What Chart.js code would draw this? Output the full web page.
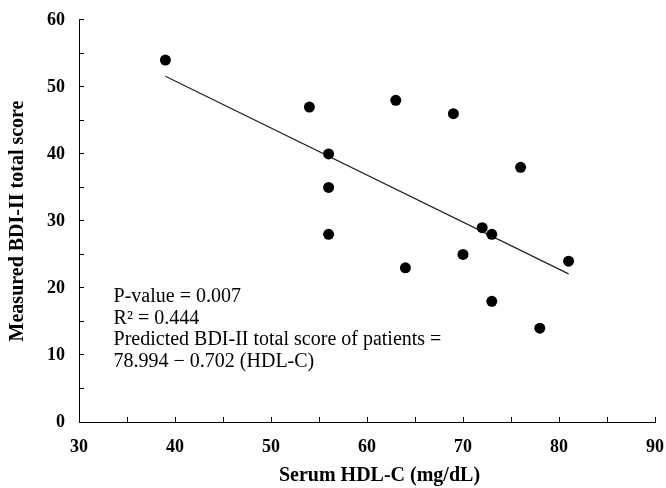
<!DOCTYPE html>
<html>
<head>
<meta charset="utf-8">
<script src="https://cdn.jsdelivr.net/npm/chart.js@4.4.1/dist/chart.umd.min.js"></script>
<style>
  html, body { margin: 0; padding: 0; background: #fff; }
</style>
</head>
<body>
<canvas id="hdl" width="666" height="488"></canvas>
<script>
// patients: serum HDL-C vs measured BDI-II score
const hdlC = [39, 54, 56, 56, 56, 63, 64, 69, 70, 72, 73, 73, 76, 78, 81];
const bdiScore = [54, 47, 40, 35, 28, 48, 23, 46, 25, 29, 28, 18, 38, 14, 24];

// regression line ends
const fitX = [39, 81];
const fitY = [51.6, 22.1];

const statText = [
  "P-value = 0.007",
  "R\u00B2 = 0.444",
  "Predicted BDI-II total score of patients =",
  "78.994 \u2212 0.702 (HDL-C)"
];

const serif = "'Liberation Serif', 'Times New Roman', serif";

// stats block, anchored on the axes
const statsPlugin = {
  id: "stats",
  afterDatasetsDraw(chart) {
    const { ctx, scales } = chart;
    const x = scales.x.getPixelForValue(33.6);
    const y = scales.y.getPixelForValue(17.9);
    ctx.save();
    ctx.font = "20px " + serif;
    ctx.fillStyle = "#000";
    ctx.textBaseline = "alphabetic";
    statText.forEach((t, i) => ctx.fillText(t, x, y + i * 21.6));
    ctx.restore();
  }
};

new Chart(document.getElementById("hdl"), {
  type: "scatter",
  data: {
    datasets: [
      {
        label: "Patients",
        data: hdlC.map((v, i) => ({ x: v, y: bdiScore[i] })),
        backgroundColor: "#000",
        borderColor: "#000",
        borderWidth: 0,
        pointRadius: 5.5,
        order: 1
      },
      {
        type: "line",
        label: "Fit",
        data: fitX.map((v, i) => ({ x: v, y: fitY[i] })),
        borderColor: "#222",
        borderWidth: 1.2,
        pointRadius: 0,
        fill: false,
        order: 2
      }
    ]
  },
  options: {
    responsive: false,
    animation: false,
    layout: { padding: { top: 19, right: 11, left: 0, bottom: 0 } },
    plugins: {
      legend: { display: false },
      tooltip: { enabled: false }
    },
    scales: {
      x: {
        type: "linear",
        min: 30,
        max: 90,
        afterFit: s => { s.height = 66; },
        border: { color: "#000", width: 1 },
        grid: { drawOnChartArea: false, tickLength: -5, color: "#000", lineWidth: 1 },
        ticks: {
          stepSize: 5,
          autoSkip: false,
          maxRotation: 0,
          padding: 2,
          color: "#000",
          font: { family: serif, size: 18, weight: "bold", lineHeight: 3.2 },
          callback: v => (v % 10 === 0 ? v : "")
        },
        title: {
          display: true,
          text: "\u2003 Serum HDL-C (mg/dL)",
          color: "#000",
          font: { family: serif, size: 20, weight: "bold" },
          padding: { top: 0, bottom: 0 }
        }
      },
      y: {
        min: 0,
        max: 60,
        afterFit: s => { s.width = 79; },
        border: { color: "#000", width: 1 },
        grid: { drawOnChartArea: false, tickLength: -5, color: "#000", lineWidth: 1 },
        ticks: {
          stepSize: 5,
          autoSkip: false,
          padding: 19,
          color: "#000",
          font: { family: serif, size: 18, weight: "bold", lineHeight: 0.1 },
          callback: v => (v % 10 === 0 ? v : "")
        },
        title: {
          display: true,
          text: "Measured BDI-II total score",
          color: "#000",
          font: { family: serif, size: 20, weight: "bold" },
          padding: { top: 6, bottom: 0 }
        }
      }
    }
  },
  plugins: [statsPlugin]
});
</script>
</body>
</html>
